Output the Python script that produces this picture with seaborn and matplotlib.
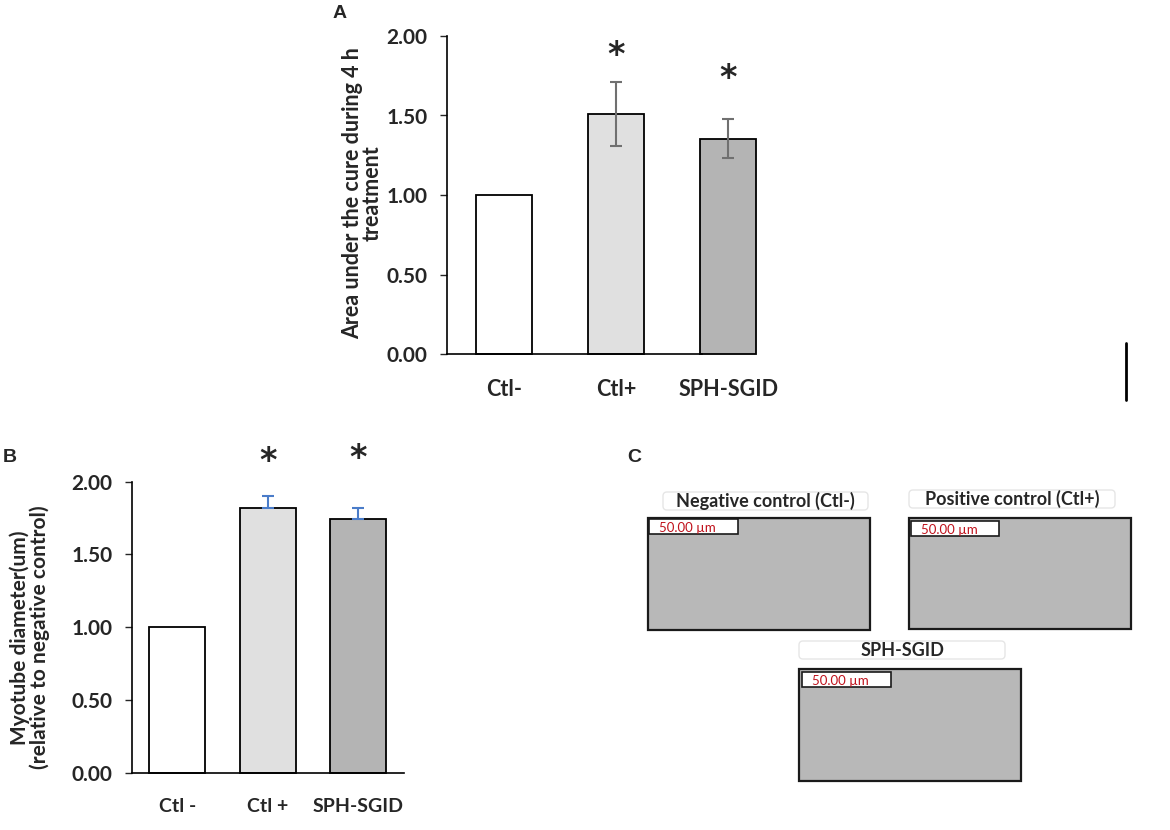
import numpy as np
import pandas as pd
import seaborn as sns
import matplotlib.pyplot as plt
from matplotlib.patches import Rectangle, FancyBboxPatch

# data panel A
a_groups = ["Ctl-", "Ctl+", "SPH-SGID"]
a_values = [1.00, 1.51, 1.355]
a_err = [0.0, 0.20, 0.12]
a_star_y = [None, 1.88, 1.73]

# data panel B
b_groups = ["Ctl -", "Ctl +", "SPH-SGID"]
b_values = [1.00, 1.817, 1.745]
b_err = [0.0, 0.085, 0.072]
b_star_y = [None, 2.14, 2.16]

bar_colors = ["#ffffff", "#e0e0e0", "#b4b4b4"]
yticks = [0.0, 0.5, 1.0, 1.5, 2.0]

sns.set_style("white")
plt.rcParams['font.family'] = ['Lato', 'DejaVu Sans']

W, H = 1170, 830
fig = plt.figure(figsize=(11.7, 8.3), dpi=100)


def px_axes(left, top, right, bottom):
    return fig.add_axes([left / W, 1 - bottom / H, (right - left) / W, (bottom - top) / H])


def bar_panel(ax, groups, values, width, xlim, ysize, xsize):
    df = pd.DataFrame({"group": groups, "value": values})
    sns.barplot(data=df, x="group", y="value", hue="group", palette=bar_colors,
                width=width, edgecolor="black", linewidth=1.3, legend=False,
                errorbar=None, ax=ax)
    for p in ax.patches:
        p.set_clip_on(False)
    ax.set_ylim(0, 2.0)
    ax.set_xlim(*xlim)
    ax.set_yticks(yticks)
    ax.set_yticklabels([f"{t:.2f}" for t in yticks], fontsize=ysize, fontweight="bold")
    ax.tick_params(axis="y", which="both", left=True, length=5, width=1, pad=9)
    ax.tick_params(axis="x", length=0, pad=18, labelsize=xsize)
    for lab in ax.get_xticklabels():
        lab.set_fontweight("bold")
    ax.set_xlabel("")
    for s in ["top", "right"]:
        ax.spines[s].set_visible(False)
    for s in ["left", "bottom"]:
        ax.spines[s].set_color("black")
        ax.spines[s].set_linewidth(1.2)
    ax.set_facecolor("none")


xs = np.arange(len(a_groups))

# ---- panel A
axA = px_axes(447, 36, 773, 354)
bar_panel(axA, a_groups, a_values, 0.5, (-0.51, 2.4), 15, 15.5)
axA.spines["bottom"].set_bounds(-0.51, 1.77)
axA.errorbar(xs[1:], a_values[1:], yerr=a_err[1:], fmt="none", ecolor="#707070",
             elinewidth=1.5, capsize=4, capthick=1.5, clip_on=False)
for x, y in zip(xs, a_star_y):
    if y is not None:
        axA.text(x, y, "*", ha="center", va="center", fontsize=24,
                 fontweight="bold", fontfamily="DejaVu Sans")
axA.set_ylabel("Area under the cure during 4 h\ntreatment", fontsize=15.5,
               fontweight="bold", linespacing=0.95)
axA.yaxis.set_label_coords(-0.196, 0.505)

# ---- panel B
axB = px_axes(132, 481.7, 403.5, 772.7)
bar_panel(axB, b_groups, b_values, 0.62, (-0.5, 2.5), 15, 14)
axB.errorbar(xs[1:], b_values[1:], yerr=[[0, 0], b_err[1:]], fmt="none",
             ecolor="#4a7cc9", elinewidth=1.5, capsize=4, capthick=1.5, clip_on=False)
for x, y in zip(xs, b_star_y):
    if y is not None:
        axB.text(x, y, "*", ha="center", va="center", fontsize=24, fontweight="bold",
                 fontfamily="DejaVu Sans", clip_on=False)
axB.set_ylabel("Myotube diameter(um)\n(relative to negative control)", fontsize=15,
               fontweight="bold", linespacing=0.95)
axB.yaxis.set_label_coords(-0.302, 0.465)

# ---- overlay for panel letters and panel C
ov = fig.add_axes([0, 0, 1, 1])
ov.set_xlim(0, W)
ov.set_ylim(H, 0)
ov.axis("off")
ov.patch.set_alpha(0)

for letter, x, y in [("A", 340, 13), ("B", 10, 457), ("C", 634, 457)]:
    ov.text(x, y, letter, fontsize=14, fontweight="bold", fontfamily="Liberation Sans",
            ha="center", va="center")
ov.plot([1126, 1126], [343, 400], color="black", lw=2)

images = [
    ("Negative control (Ctl-)", (663, 492, 868, 510), (648, 518, 870, 630), (649, 519, 738, 534)),
    ("Positive control (Ctl+)", (909, 490, 1115, 508), (909, 518, 1131, 629), (911, 521, 999, 536)),
    ("SPH-SGID", (799, 641, 1005, 659), (799, 669, 1021, 781), (802, 672, 891, 687)),
]
for title, tb, ib, sb in images:
    ov.add_patch(FancyBboxPatch((tb[0], tb[1]), tb[2] - tb[0], tb[3] - tb[1],
                                boxstyle="round,pad=0,rounding_size=4",
                                facecolor="white", edgecolor="#e6e6e6", lw=1))
    ov.text((tb[0] + tb[2]) / 2, (tb[1] + tb[3]) / 2, title, fontsize=13,
            fontweight="bold", ha="center", va="center")
    ov.add_patch(Rectangle((ib[0], ib[1]), ib[2] - ib[0], ib[3] - ib[1],
                           facecolor="#b8b8b8", edgecolor="#1a1a1a", lw=1.6))
    ov.add_patch(Rectangle((sb[0], sb[1]), sb[2] - sb[0], sb[3] - sb[1],
                           facecolor="white", edgecolor="#1a1a1a", lw=1.2))
    ov.text(sb[0] + 10, (sb[1] + sb[3]) / 2 + 1, "50.00 µm", fontsize=9.5,
            color="#c0121c", ha="left", va="center")

fig.savefig("out.png", dpi=100, facecolor="white")
